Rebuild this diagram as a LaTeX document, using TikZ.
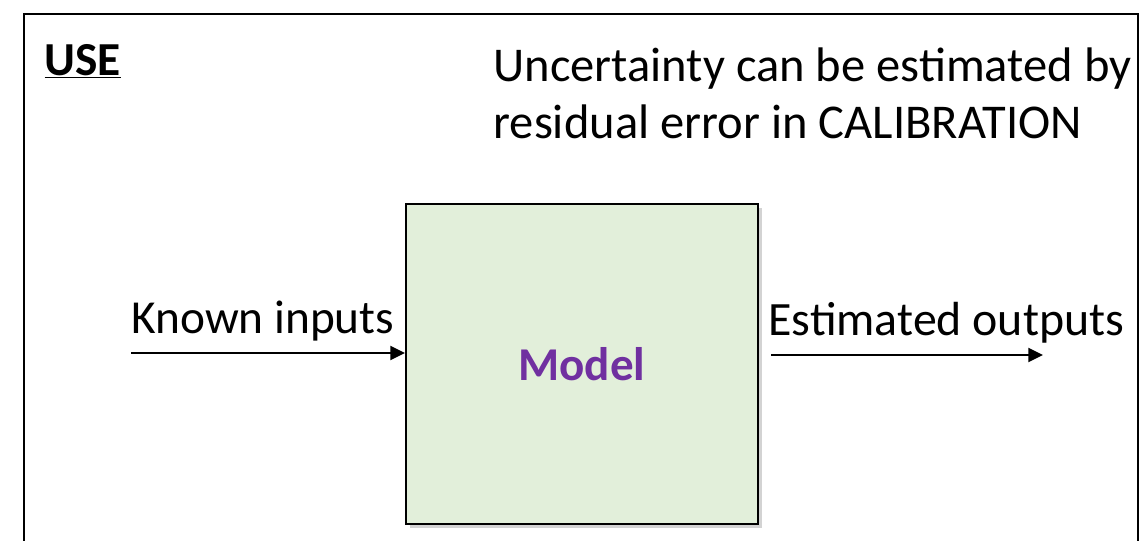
\documentclass[tikz,border=0pt]{standalone}
\usepackage{fontspec}
\setmainfont{Carlito}
\usepackage{xcolor}
\usepackage{tikz}
\usetikzlibrary{arrows.meta,positioning,shadows}

\definecolor{modelgreen}{HTML}{E2EFDA}
\definecolor{modelpurple}{HTML}{7030A0}

\begin{document}
\begin{tikzpicture}[x=0.75pt, y=-0.75pt, thick]
    % Styles
    \tikzstyle{label}=[inner sep=0pt, font=\fontsize{35.5}{43}\selectfont]
    \tikzstyle{block}=[rectangle, minimum width=264pt, minimum height=240pt, draw=black, line width=1.5pt, fill=modelgreen, drop shadow={shadow xshift=3pt, shadow yshift=-3pt, opacity=0.35}]
    \tikzstyle{arrow}=[-{Triangle[length=11pt,width=10.5pt]}, line width=1.5pt]

    % Frame
    \useasboundingbox (0,0) rectangle (1143,540);
    \clip (0,0) rectangle (1143,540);
    \draw[line width=1.5pt] (24,560) -- (24,14) -- (1138,14) -- (1138,560);

    % Nodes
    \node (use) [label, anchor=base west, font=\fontsize{35.5}{42}\selectfont\bfseries] at (44,75) {\underline{USE}};
    \node (note) [label, anchor=north west, align=left, font=\fontsize{36.4}{43}\selectfont] at (493,47) {Uncertainty can be estimated by\\residual error in CALIBRATION};
    \node (model) [block, font=\fontsize{35.3}{42}\selectfont\bfseries, text=modelpurple] at (582,364) {Model};
    \node (known) [label, anchor=base west] at (131,333) {Known inputs};
    \node (estimated) [label, anchor=base west, font=\fontsize{35.9}{43}\selectfont] at (768,335) {Estimated outputs};
    \coordinate (in) at (131,353);
    \coordinate (out) at (1043,355);

    % Connectors
    \draw [arrow] (in) -- (in -| model.west);
    \draw [arrow] ([xshift=9pt]out -| model.east) -- (out);

\end{tikzpicture}
\end{document}
